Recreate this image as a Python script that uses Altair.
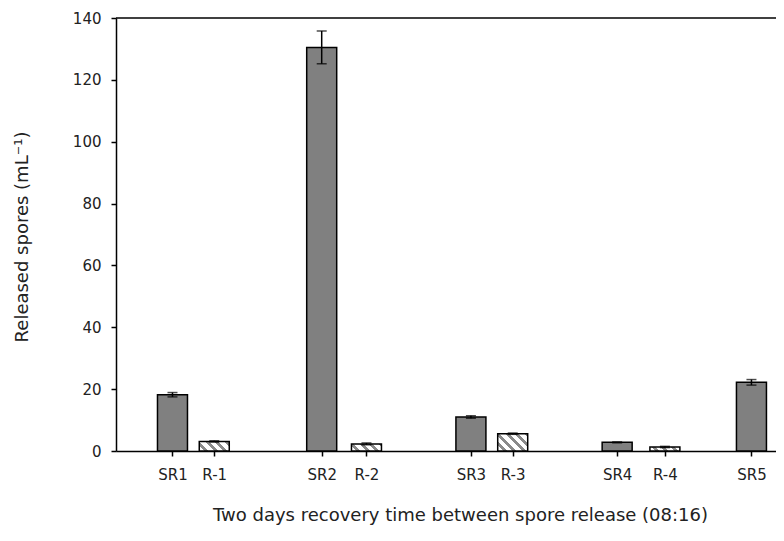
import json
import altair as alt
import pandas as pd

# ---- data ----
labels = ["SR1", "R-1", "SR2", "R-2", "SR3", "R-3", "SR4", "R-4", "SR5"]
kinds = ["SR", "R", "SR", "R", "SR", "R", "SR", "R", "SR"]
positions = [1.0, 1.28, 2.0, 2.3, 3.0, 3.28, 3.98, 4.3, 4.88]
values = [18.2, 3.1, 130.5, 2.3, 11.0, 5.6, 2.8, 1.3, 22.2]
errors = [0.7, 0.2, 5.3, 0.3, 0.4, 0.2, 0.15, 0.2, 0.9]

df = pd.DataFrame({
    "label": labels,
    "kind": kinds,
    "pos": positions,
    "value": values,
    "err": errors,
})
df["lo"] = df["value"] - df["err"]
df["hi"] = df["value"] + df["err"]

# ---- layout ----
W, H = 660, 433
BAR_W = 30
Y_MAX = 140
FONT = "DejaVu Sans"

x_scale = alt.Scale(domain=[0.655, 5.011], nice=False, zero=False)
y_scale = alt.Scale(domain=[0, Y_MAX], nice=False)

label_expr = f"{json.dumps(labels)}[indexof({json.dumps(positions)}, datum.value)]"

x_axis = alt.Axis(
    values=positions, labelExpr=label_expr, grid=False,
    domainColor="black", domainWidth=1.5, tickColor="black", tickWidth=1.5,
    tickSize=5, labelPadding=11, labelFont=FONT, labelFontSize=15,
    labelColor="#222", title="Two days recovery time between spore release (08:16)",
    titleFont=FONT, titleFontSize=18, titleFontWeight="normal", titleColor="#222",
    titleX=344, titleY=64, titleBaseline="middle", titleAlign="center",
)
y_axis = alt.Axis(
    values=list(range(0, 141, 20)), grid=False,
    domainColor="black", domainWidth=1.5, tickColor="black", tickWidth=1.5,
    tickSize=5, labelPadding=10, labelFont=FONT, labelFontSize=15,
    labelColor="#222", title="Released spores (mL⁻¹)",
    titleFont=FONT, titleFontSize=18, titleFontWeight="normal", titleColor="#222",
    titleX=-94, titleY=H / 2 + 2, titleAngle=270, titleBaseline="middle",
    titleAlign="center",
)

base = alt.Chart(df)

sr_bars = base.transform_filter(alt.datum.kind == "SR").mark_bar(
    size=BAR_W, fill="#808080", stroke="black", strokeWidth=1.5, orient="vertical"
).encode(
    x=alt.X("pos:Q", scale=x_scale, axis=x_axis),
    y=alt.Y("value:Q", scale=y_scale, axis=y_axis),
)


def hatch(v):
    """diagonal hatch as a hard-stop linear gradient in the bar's bounding box"""
    h = max(v * H / Y_MAX, 1.0)
    w = BAR_W
    k = (w + h) / (w * w + h * h)
    total = w + h
    period, gray = 9.5, 4.0
    stops = []
    s = 0.0
    while s < total:
        a = min(s / total, 1.0)
        b = min((s + period - gray) / total, 1.0)
        c = min((s + period) / total, 1.0)
        stops += [
            {"offset": a, "color": "white"},
            {"offset": b, "color": "white"},
            {"offset": b, "color": "#8a8a8a"},
            {"offset": c, "color": "#8a8a8a"},
        ]
        s += period
    return {"gradient": "linear", "x1": 0, "y1": 1, "x2": k * w, "y2": 1 - k * h,
            "stops": stops}


r_layers = []
for lab, kd, v in zip(labels, kinds, values):
    if kd != "R":
        continue
    r_layers.append(
        base.transform_filter(alt.datum.label == lab).mark_bar(
            size=BAR_W, fill=hatch(v), stroke="black", strokeWidth=1.5,
            orient="vertical"
        ).encode(
            x=alt.X("pos:Q", scale=x_scale, axis=x_axis),
            y=alt.Y("value:Q", scale=y_scale, axis=y_axis),
        )
    )

err_rule = base.mark_rule(color="black", strokeWidth=1.5).encode(
    x=alt.X("pos:Q", scale=x_scale),
    y=alt.Y("lo:Q", scale=y_scale),
    y2="hi:Q",
)
cap_lo = base.mark_tick(orient="horizontal", size=10, thickness=1.5, color="black").encode(
    x=alt.X("pos:Q", scale=x_scale),
    y=alt.Y("lo:Q", scale=y_scale),
)
cap_hi = base.mark_tick(orient="horizontal", size=10, thickness=1.5, color="black").encode(
    x=alt.X("pos:Q", scale=x_scale),
    y=alt.Y("hi:Q", scale=y_scale),
)

top_line = alt.Chart(pd.DataFrame({"a": [0]})).mark_rule(
    color="black", strokeWidth=1.5
).encode(x=alt.value(0), x2=alt.value(W), y=alt.value(0))

chart = alt.layer(
    sr_bars, *r_layers, err_rule, cap_lo, cap_hi, top_line
).properties(
    width=W, height=H,
    autosize=alt.AutoSizeParams(type="none"),
    padding={"left": 108, "top": 10, "right": 0, "bottom": 76},
    background="white",
).configure_view(stroke=None)

chart.save("out.html", embed_options={"renderer": "svg", "actions": False})
